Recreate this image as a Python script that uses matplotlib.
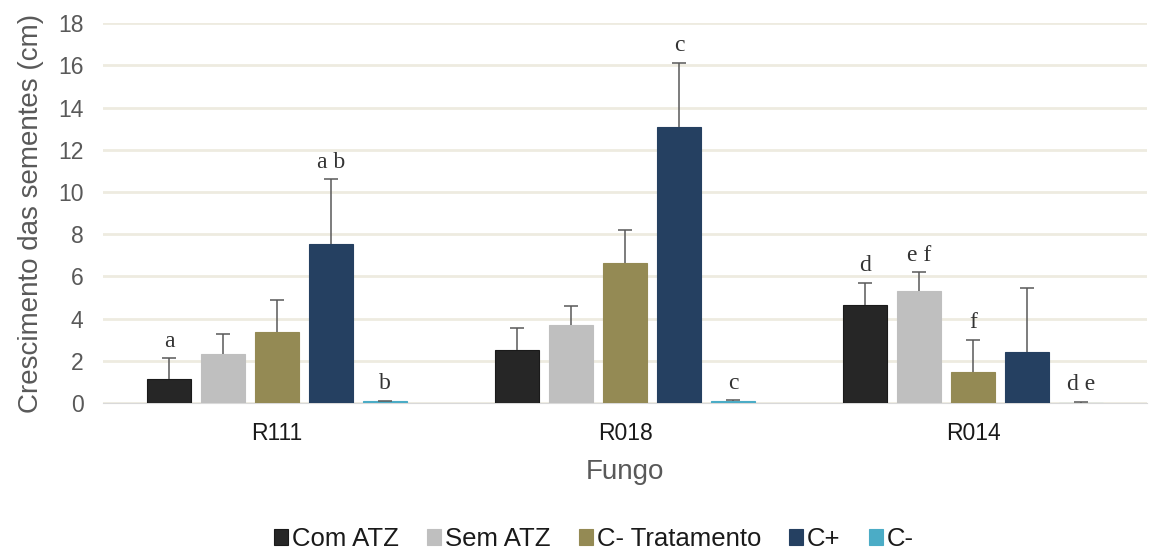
import numpy as np
import matplotlib
matplotlib.use("Agg")
import matplotlib.pyplot as plt

fungos = ["R111", "R018", "R014"]
series = ["Com ATZ", "Sem ATZ", "C- Tratamento", "C+", "C-"]
colors = ["#262626", "#bfbfbf", "#948a54", "#254061", "#4bacc6"]

com_atz = [1.15, 2.52, 4.66]
sem_atz = [2.32, 3.68, 5.29]
c_trat = [3.36, 6.65, 1.48]
c_pos = [7.53, 13.06, 2.40]
c_neg = [0.08, 0.08, 0.0]

com_atz_err = [0.98, 1.05, 1.05]
sem_atz_err = [0.95, 0.92, 0.91]
c_trat_err = [1.52, 1.53, 1.52]
c_pos_err = [3.07, 3.06, 3.06]
c_neg_err = [0.03, 0.05, 0.06]

# significance letters: (fungo index, series index, text)
letters = [(0, 0, "a"), (0, 3, "a b"), (0, 4, "b"),
           (1, 3, "c"), (1, 4, "c"),
           (2, 0, "d"), (2, 1, "e f"), (2, 2, "f"), (2, 4, "d e")]

values = [com_atz, sem_atz, c_trat, c_pos, c_neg]
errors = [com_atz_err, sem_atz_err, c_trat_err, c_pos_err, c_neg_err]

plt.rcParams['font.family'] = ['Liberation Sans', 'DejaVu Sans']

fig = plt.figure(figsize=(11.5, 5.51), dpi=100)
ax = fig.add_axes([0.0896, 0.2686, 0.908, 0.6894])

x = np.arange(len(fungos))
pitch = 0.155
width = 0.126
for i, (vals, errs) in enumerate(zip(values, errors)):
    pos = x + (i - 2) * pitch
    tops = np.array(vals) + np.array(errs)
    ax.bar(pos, vals, width, color=colors[i], label=series[i],
           edgecolor="#1a1a1a" if i == 0 else colors[i], linewidth=0.8, zorder=3)
    ax.vlines(pos, vals, tops, color="#595959", linewidth=1.1, zorder=4)
    ax.plot(pos, tops, linestyle="none", marker="_", markersize=10,
            markeredgewidth=1.1, color="#595959", zorder=4)

for g, s, txt in letters:
    xp = g + (s - 2) * pitch
    yp = values[s][g] + errors[s][g] + 0.3
    ax.text(xp, yp, txt, ha="center", va="bottom", fontsize=17,
            family=["Liberation Serif", "DejaVu Serif"], color="#333333")

ax.set_xlim(-0.5, 2.5)
ax.set_ylim(0, 18)
ax.set_yticks(np.arange(0, 19, 2))
ax.set_xticks(x)
ax.set_xticklabels(fungos)
ax.tick_params(axis="y", length=0, labelsize=16.5, colors="#595959", pad=14)
ax.tick_params(axis="x", length=0, labelsize=16.5, colors="#1a1a1a", pad=14)
ax.yaxis.grid(True, color="#eeebe0", linewidth=2, zorder=0)
ax.set_axisbelow(True)
for side in ["top", "right", "left"]:
    ax.spines[side].set_visible(False)
ax.spines["bottom"].set_color("#d9d9d9")

ax.set_ylabel("Crescimento das sementes (cm)", fontsize=20, color="#595959", labelpad=10)
ax.set_xlabel("Fungo", fontsize=20, color="#595959", labelpad=10)

ax.legend(loc="center", bbox_to_anchor=(0.47, -0.358), ncol=5, frameon=False,
          fontsize=18.5, handlelength=0.55, handleheight=0.55, handletextpad=0.15,
          columnspacing=1.1, labelcolor="#1a1a1a")

fig.savefig("out.png", dpi=100)
